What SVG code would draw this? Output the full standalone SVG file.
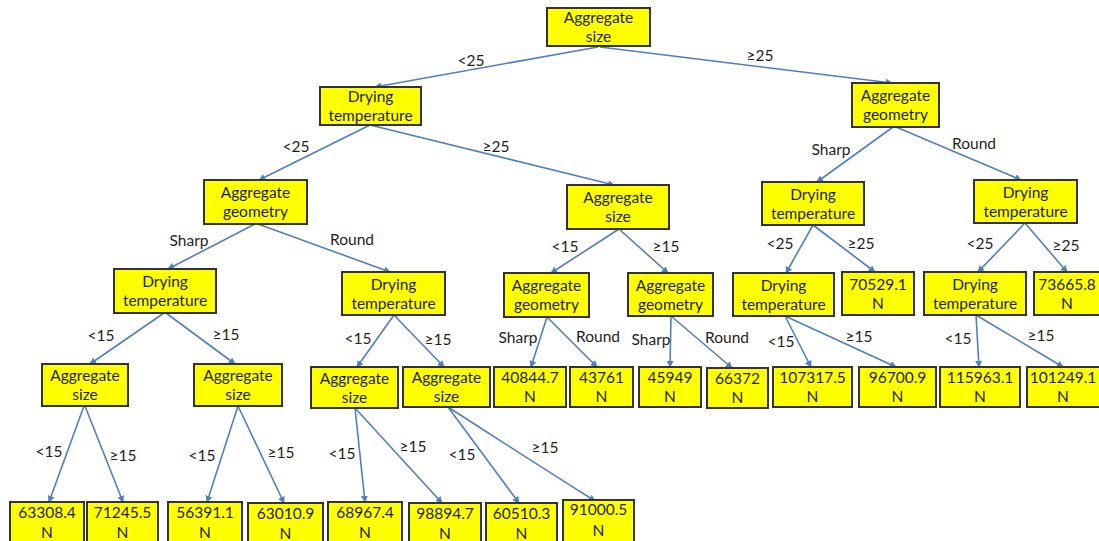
<svg xmlns="http://www.w3.org/2000/svg" width="1099" height="541" viewBox="0 0 1099 541">
<defs>
<style>
.n rect{fill:#ffff00;stroke:#333;stroke-width:2}
.n text{font-family:Lato,"Liberation Sans",sans-serif;font-size:15.5px;fill:#1e1e1e;text-anchor:middle}
.e line,.e path{stroke:#4f7fbf;stroke-width:1.6;fill:none;marker-end:url(#ah)}
.lb text{font-family:Lato,"Liberation Sans",sans-serif;font-size:15.5px;fill:#1e1e1e;text-anchor:middle}
</style>
<marker id="ah" viewBox="0 0 8 8" refX="7" refY="4" markerWidth="7" markerHeight="7" markerUnits="userSpaceOnUse" orient="auto">
<path d="M0,0L8,4L0,8z" fill="#4f7fbf"/>
</marker>
</defs>
<rect width="1099" height="541" fill="#fff"/>
<g id="connectors" class="e">
<line x1="598" y1="47" x2="375" y2="87"/>
<line x1="600" y1="47" x2="892" y2="83"/>
<line x1="370" y1="125" x2="259" y2="180"/>
<line x1="370" y1="125" x2="614" y2="185"/>
<line x1="893" y1="127" x2="817" y2="182"/>
<line x1="896" y1="127" x2="1021" y2="180"/>
<line x1="255" y1="224" x2="168" y2="269"/>
<line x1="258" y1="224" x2="390" y2="272"/>
<line x1="619" y1="229" x2="551" y2="273"/>
<line x1="619" y1="229" x2="668" y2="273"/>
<line x1="813" y1="225" x2="786" y2="273"/>
<line x1="813" y1="225" x2="875" y2="272"/>
<line x1="1025" y1="223" x2="978" y2="272"/>
<line x1="1025" y1="223" x2="1067" y2="272"/>
<line x1="164" y1="313" x2="90" y2="364"/>
<line x1="166" y1="313" x2="235" y2="364"/>
<line x1="394" y1="315" x2="357" y2="367"/>
<line x1="394" y1="315" x2="444" y2="367"/>
<line x1="547" y1="317" x2="531" y2="367"/>
<line x1="547" y1="317" x2="597" y2="367"/>
<line x1="671" y1="316" x2="670" y2="367"/>
<line x1="671" y1="316" x2="732" y2="368"/>
<line x1="785" y1="316" x2="811" y2="367"/>
<line x1="785" y1="316" x2="896" y2="367"/>
<line x1="976" y1="315" x2="979" y2="367"/>
<line x1="976" y1="315" x2="1063" y2="367"/>
<line x1="84" y1="406" x2="49" y2="502"/>
<line x1="85" y1="406" x2="123" y2="502"/>
<line x1="238" y1="406" x2="207" y2="502"/>
<line x1="238" y1="406" x2="284" y2="503"/>
<line x1="355" y1="408" x2="365" y2="502"/>
<line x1="355" y1="408" x2="442" y2="503"/>
<line x1="448" y1="407" x2="519" y2="503"/>
<path d="M448,407Q530,460 595,501"/>
</g>
<g id="edge-labels" class="lb">
<text x="471" y="66">&lt;25</text>
<text x="760" y="61">≥25</text>
<text x="296" y="152">&lt;25</text>
<text x="496" y="152">≥25</text>
<text x="189" y="246">Sharp</text>
<text x="352" y="245">Round</text>
<text x="565" y="252">&lt;15</text>
<text x="666" y="252">≥15</text>
<text x="831" y="155">Sharp</text>
<text x="974" y="149">Round</text>
<text x="780" y="249">&lt;25</text>
<text x="861" y="249">≥25</text>
<text x="980" y="249">&lt;25</text>
<text x="1066" y="251">≥25</text>
<text x="101" y="341">&lt;15</text>
<text x="226" y="340">≥15</text>
<text x="358" y="344">&lt;15</text>
<text x="438" y="345">≥15</text>
<text x="518" y="343">Sharp</text>
<text x="598" y="342">Round</text>
<text x="651" y="345">Sharp</text>
<text x="727" y="343">Round</text>
<text x="781" y="347">&lt;15</text>
<text x="859" y="342">≥15</text>
<text x="958" y="344">&lt;15</text>
<text x="1041" y="341">≥15</text>
<text x="49" y="457">&lt;15</text>
<text x="123" y="461">≥15</text>
<text x="202" y="461">&lt;15</text>
<text x="281" y="458">≥15</text>
<text x="342" y="459">&lt;15</text>
<text x="413" y="452">≥15</text>
<text x="462" y="460">&lt;15</text>
<text x="545" y="453">≥15</text>
</g>
<g id="root" class="n"><rect x="547" y="8" width="103" height="38"/><text x="598.5" y="23">Aggregate</text><text x="598.5" y="42">size</text></g>
<g id="dt1" class="n"><rect x="320" y="87" width="101" height="38"/><text x="370.5" y="102">Drying</text><text x="370.5" y="121">temperature</text></g>
<g id="ag1" class="n"><rect x="852" y="83" width="87" height="44"/><text x="895.5" y="101">Aggregate</text><text x="895.5" y="120">geometry</text></g>
<g id="ag2" class="n"><rect x="204" y="180" width="103" height="44"/><text x="255.5" y="198">Aggregate</text><text x="255.5" y="217">geometry</text></g>
<g id="as2" class="n"><rect x="567" y="185" width="102" height="44"/><text x="618" y="203">Aggregate</text><text x="618" y="222">size</text></g>
<g id="dt2a" class="n"><rect x="762" y="182" width="102" height="43"/><text x="813" y="199.5">Drying</text><text x="813" y="218.5">temperature</text></g>
<g id="dt2b" class="n"><rect x="974" y="180" width="103" height="43"/><text x="1025.5" y="197.5">Drying</text><text x="1025.5" y="216.5">temperature</text></g>
<g id="dt3a" class="n"><rect x="114" y="269" width="102" height="44"/><text x="165" y="287">Drying</text><text x="165" y="306">temperature</text></g>
<g id="dt3b" class="n"><rect x="342" y="272" width="103" height="43"/><text x="393.5" y="289.5">Drying</text><text x="393.5" y="308.5">temperature</text></g>
<g id="ag3a" class="n"><rect x="504" y="273" width="85" height="44"/><text x="546.5" y="291">Aggregate</text><text x="546.5" y="310">geometry</text></g>
<g id="ag3b" class="n"><rect x="628" y="273" width="85" height="43"/><text x="670.5" y="290.5">Aggregate</text><text x="670.5" y="309.5">geometry</text></g>
<g id="dt3c" class="n"><rect x="733" y="273" width="101" height="43"/><text x="783.5" y="290.5">Drying</text><text x="783.5" y="309.5">temperature</text></g>
<g id="leaf-70529" class="n"><rect x="842" y="272" width="72" height="43"/><text x="878" y="289.5">70529.1</text><text x="878" y="308.5">N</text></g>
<g id="dt3d" class="n"><rect x="924" y="272" width="102" height="43"/><text x="975" y="289.5">Drying</text><text x="975" y="308.5">temperature</text></g>
<g id="leaf-73665" class="n"><rect x="1034" y="272" width="66" height="43"/><text x="1067" y="289.5">73665.8</text><text x="1067" y="308.5">N</text></g>
<g id="as4a" class="n"><rect x="42" y="364" width="86" height="42"/><text x="85" y="381">Aggregate</text><text x="85" y="400">size</text></g>
<g id="as4b" class="n"><rect x="194" y="364" width="88" height="42"/><text x="238" y="381">Aggregate</text><text x="238" y="400">size</text></g>
<g id="as4c" class="n"><rect x="311" y="367" width="87" height="41"/><text x="354.5" y="383.5">Aggregate</text><text x="354.5" y="402.5">size</text></g>
<g id="as4d" class="n"><rect x="403" y="367" width="87" height="40"/><text x="446.5" y="383">Aggregate</text><text x="446.5" y="402">size</text></g>
<g id="leaf-40844" class="n"><rect x="494" y="367" width="72" height="40"/><text x="530" y="383">40844.7</text><text x="530" y="402">N</text></g>
<g id="leaf-43761" class="n"><rect x="570" y="367" width="63" height="40"/><text x="601.5" y="383">43761</text><text x="601.5" y="402">N</text></g>
<g id="leaf-45949" class="n"><rect x="639" y="367" width="62" height="40"/><text x="670" y="383">45949</text><text x="670" y="402">N</text></g>
<g id="leaf-66372" class="n"><rect x="707" y="368" width="61" height="40"/><text x="737.5" y="384">66372</text><text x="737.5" y="403">N</text></g>
<g id="leaf-107317" class="n"><rect x="773" y="367" width="79" height="40"/><text x="812.5" y="383">107317.5</text><text x="812.5" y="402">N</text></g>
<g id="leaf-96700" class="n"><rect x="859" y="367" width="77" height="40"/><text x="897.5" y="383">96700.9</text><text x="897.5" y="402">N</text></g>
<g id="leaf-115963" class="n"><rect x="940" y="367" width="80" height="40"/><text x="980" y="383">115963.1</text><text x="980" y="402">N</text></g>
<g id="leaf-101249" class="n"><rect x="1027" y="367" width="75" height="40"/><text x="1063" y="383">101249.1</text><text x="1063" y="402">N</text></g>
<g id="leaf-63308" class="n"><rect x="10" y="502" width="74" height="44"/><text x="47" y="518">63308.4</text><text x="47" y="538">N</text></g>
<g id="leaf-71245" class="n"><rect x="87" y="502" width="71" height="44"/><text x="122.5" y="518">71245.5</text><text x="122.5" y="538">N</text></g>
<g id="leaf-56391" class="n"><rect x="168" y="502" width="74" height="44"/><text x="205" y="518">56391.1</text><text x="205" y="538">N</text></g>
<g id="leaf-63010" class="n"><rect x="248" y="503" width="75" height="44"/><text x="285.5" y="519">63010.9</text><text x="285.5" y="539">N</text></g>
<g id="leaf-68967" class="n"><rect x="328" y="502" width="74" height="44"/><text x="365" y="518">68967.4</text><text x="365" y="538">N</text></g>
<g id="leaf-98894" class="n"><rect x="409" y="503" width="72" height="44"/><text x="445" y="519">98894.7</text><text x="445" y="539">N</text></g>
<g id="leaf-60510" class="n"><rect x="486" y="503" width="71" height="44"/><text x="521.5" y="519">60510.3</text><text x="521.5" y="539">N</text></g>
<g id="leaf-91000" class="n"><rect x="563" y="500" width="71" height="46"/><text x="598.5" y="515">91000.5</text><text x="598.5" y="536">N</text></g>
</svg>
